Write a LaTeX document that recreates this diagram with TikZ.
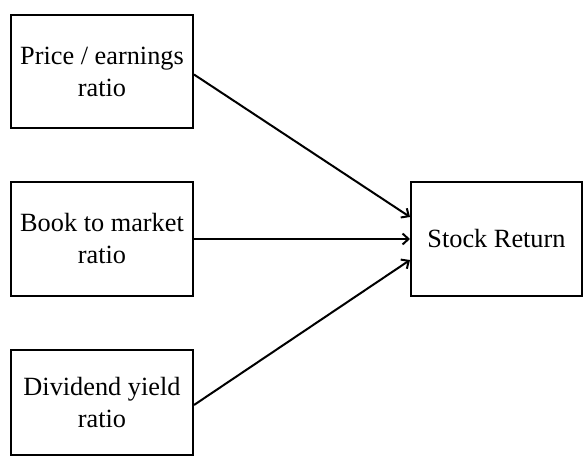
\documentclass[tikz,border=0pt]{standalone}
\usepackage{fontspec}
\setmainfont{Liberation Serif}
\usetikzlibrary{arrows.meta}
\begin{document}
\begin{tikzpicture}[x=1bp,y=-1bp,
  box/.style={draw,line width=2bp,align=center,inner sep=0pt,
    font=\fontsize{26.3bp}{32bp}\selectfont},
  link/.style={line width=2bp,-{Straight Barb[length=6bp,width=11bp,line width=2bp]}}]
\useasboundingbox (0,0) rectangle (583,456);
\node[box,minimum width=182bp,minimum height=113bp] (pe) at (102,71.5) {Price / earnings\\ratio};
\node[box,minimum width=182bp,minimum height=114bp] (bm) at (102,239) {Book to market\\ratio};
\node[box,minimum width=182bp,minimum height=105bp] (dy) at (102,402.5) {Dividend yield\\ratio};
\node[box,minimum width=171bp,minimum height=114bp] (sr) at (496.5,239) {Stock Return};
\draw[link] ([yshift=-3bp]pe.east) -- ([yshift=22bp]sr.west);
\draw[link] (bm.east) -- (sr.west);
\draw[link] ([yshift=-2.5bp]dy.east) -- ([yshift=-21bp]sr.west);
\end{tikzpicture}
\end{document}
